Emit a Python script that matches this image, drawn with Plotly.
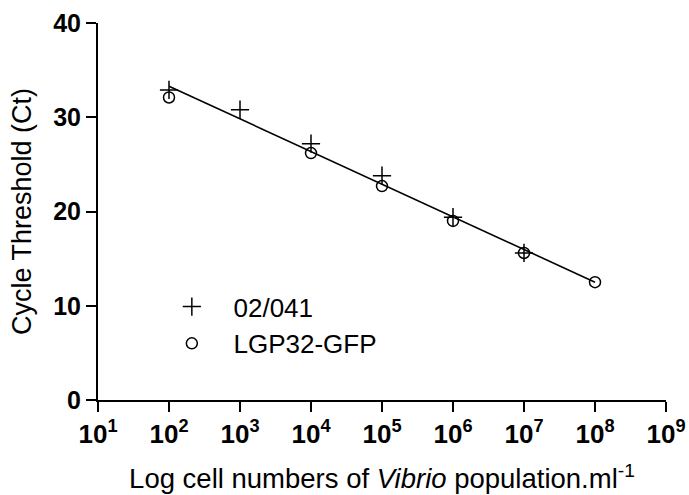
import plotly.graph_objects as go

# Ct values
cells = [1e2, 1e3, 1e4, 1e5, 1e6, 1e7, 1e8]
ct_02041 = [32.9, 30.8, 27.2, 23.8, 19.4, 15.6, None]
ct_lgp32 = [32.1, None, 26.2, 22.7, 19.0, 15.6, 12.5]

# regression line end points
fit_x = [1e2, 1e8]
fit_y = [33.3, 12.5]

x_tick_vals = [10 ** k for k in range(1, 10)]
x_tick_text = ["<b>10<sup>%d</sup></b>" % k for k in range(1, 10)]
y_tick_vals = [0, 10, 20, 30, 40]
y_tick_text = ["<b>%d</b>" % v for v in y_tick_vals]

nb = "\u00a0" * 3  # pushes legend text away from the symbol

fig = go.Figure()

fig.add_trace(go.Scatter(
    x=fit_x, y=fit_y, mode="lines",
    line=dict(color="black", width=1.6), showlegend=False,
))
fig.add_trace(go.Scatter(
    x=cells, y=ct_02041, mode="markers", name=nb + "02/041",
    marker=dict(symbol="cross-thin", size=13, line=dict(color="black", width=1.5)),
))
fig.add_trace(go.Scatter(
    x=cells, y=ct_lgp32, mode="markers", name=nb + "LGP32-GFP",
    marker=dict(symbol="circle-open", size=11, color="black", line=dict(color="black", width=1.5)),
))

fig.update_layout(
    width=689, height=495,
    plot_bgcolor="white", paper_bgcolor="white",
    margin=dict(l=98, r=23, t=23, b=95),
    font=dict(family="Liberation Sans, Arial", color="black"),
    legend=dict(
        x=0.13, y=0.31, xanchor="left", yanchor="top",
        font=dict(size=26), bgcolor="rgba(0,0,0,0)",
        tracegroupgap=0,
    ),
)

fig.update_xaxes(
    type="log", range=[1, 9],
    tickvals=x_tick_vals, ticktext=x_tick_text,
    tickfont=dict(size=26),
    ticks="outside", ticklen=10, tickwidth=2, tickcolor="black",
    showline=True, linecolor="black", linewidth=2,
    showgrid=False, zeroline=False, automargin=False,
    title=dict(text="Log cell numbers of <i>Vibrio</i> population.ml<sup>-1</sup>",
               font=dict(size=27.5), standoff=21),
)
fig.update_yaxes(
    range=[0, 40],
    tickvals=y_tick_vals, ticktext=y_tick_text,
    tickfont=dict(size=25),
    ticks="outside", ticklen=10, tickwidth=2, tickcolor="black",
    showline=True, linecolor="black", linewidth=2,
    showgrid=False, zeroline=False, automargin=False,
    title=dict(text="Cycle Threshold (Ct)", font=dict(size=27), standoff=14),
)

# drop the default page margin so the figure fills the window
fig.write_html(
    "out.html",
    config={"displayModeBar": False},
    post_script="document.body.style.margin='0';document.body.style.overflow='hidden';",
)
